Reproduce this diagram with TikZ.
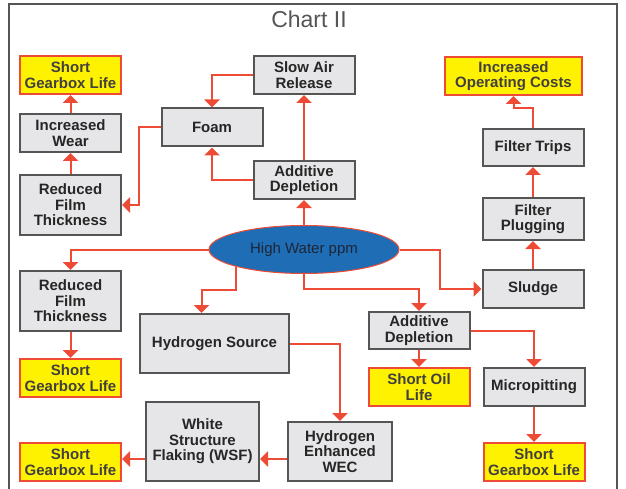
\documentclass[tikz,border=0pt]{standalone}
\usepackage{fontspec}
\setmainfont{Liberation Sans}
\usepackage{tikz}
\usetikzlibrary{
  arrows.meta,
  positioning,
  shapes.geometric,
  calc
}
\definecolor{boxgray}{HTML}{E6E6E8}
\definecolor{edgegray}{HTML}{555555}
\definecolor{warnyellow}{HTML}{FFF200}
\definecolor{flowred}{HTML}{EE4B36}
\definecolor{ovalblue}{HTML}{1F6EB5}
\definecolor{ovaltext}{HTML}{1E2538}
\definecolor{titlegray}{HTML}{555555}

\begin{document}
\begin{tikzpicture}[
    x=1pt, y=-1pt,
    >={Triangle[width=15pt,length=8pt]},
    % Styles
    grbox/.style={
        rectangle, draw=edgegray, line width=2pt,
        fill=boxgray, text=black!85,
        minimum width=101pt, minimum height=38pt,
        font=\fontsize{15}{15.5}\selectfont\bfseries,
        align=center, inner sep=2pt
    },
    ylbox/.style={
        grbox, draw=flowred, fill=warnyellow, text=black!75
    },
    oval/.style={
        ellipse, draw=flowred, line width=1pt,
        fill=ovalblue, text=ovaltext,
        minimum width=190pt, minimum height=48pt, inner sep=0pt,
        font=\fontsize{15}{17}\selectfont
    },
    flow/.style={->, line width=2pt, color=flowred}
]
\useasboundingbox (0,0) rectangle (626,489);

% ── FRAME & TITLE ──
\draw[edgegray, line width=1.5pt] (9,492) -- (9,4) -- (617,4) -- (617,492);
\node[font=\fontsize{23}{25}\selectfont, text=titlegray] (title) at (309,19.5) {Chart II};

% ── CENTRE ──
\node[oval] (hwp) at (304,249.5) {High Water ppm};

% ── TOP MIDDLE ──
\node[grbox, above=25pt of hwp] (addep1) {Additive\\Depletion};
\node[grbox, above=65pt of addep1] (slowair) {Slow Air\\Release};
\node[grbox, xshift=-92pt] (foam) at ($(slowair)!0.5!(addep1)$) {Foam};

% ── LEFT COLUMN ──
\node[grbox, minimum height=60pt] (rft1) at (70.5,205) {Reduced\\Film\\Thickness};
\node[grbox, above=21pt of rft1] (incwear) {Increased\\Wear};
\node[ylbox, above=18pt of incwear] (sgl1) {Short\\Gearbox Life};

\node[grbox, minimum height=60pt] (rft2) at (70.5,301) {Reduced\\Film\\Thickness};
\node[ylbox, below=26pt of rft2] (sgl2) {Short\\Gearbox Life};

\node[ylbox] (sgl4) at (70.5,462) {Short\\Gearbox Life};

% ── RIGHT COLUMN ──
\node[grbox] (sludge) at (533,289) {Sludge};
\node[grbox, above=28pt of sludge, minimum height=42pt] (fplug) {Filter\\Plugging};
\node[grbox, above=30pt of fplug, minimum height=37pt] (ftrips) {Filter Trips};
\node[ylbox, above=32pt of ftrips, xshift=-19.5pt, minimum width=137pt] (incost) {Increased\\Operating Costs};

% ── LOWER MIDDLE ──
\node[grbox, minimum height=37pt] (addep2) at (419,330.5) {Additive\\Depletion};
\node[ylbox, below=17pt of addep2] (soil) {Short Oil\\Life};
\node[grbox, right=12pt of soil] (micro) {Micropitting};
\node[ylbox, below=35pt of micro] (sgl3) {Short\\Gearbox Life};

\node[grbox, minimum width=149pt, minimum height=59pt] (hsrc) at (214.5,343.5) {Hydrogen Source};
\node[grbox, minimum width=104pt, minimum height=59pt] (hewec) at (340,451.5) {Hydrogen\\Enhanced\\WEC};
\node[grbox, minimum width=113pt, minimum height=79pt] (wsf) at (202.5,441.5) {White\\Structure\\Flaking (WSF)};
\coordinate (wsfline) at (0,459);

% ── CONNECTORS ──
\draw[flow] (rft1) -- (incwear);
\draw[flow] (incwear) -- (sgl1);
\draw[flow] (foam.west) -- ++(-22,0) |- (rft1.east);
\draw[flow] (slowair.west) -| (foam.north);
\draw[flow] (addep1.west) -| (foam.south);
\draw[flow] (addep1) -- (slowair);
\draw[flow] (hwp) -- (addep1);

\draw[flow] (hwp.west) -| (rft2.north);
\draw[flow] (rft2) -- (sgl2);
\draw[flow] (hwp.south west) -- ++(0,23) -| ([xshift=-13pt]hsrc.north);
\draw[flow] (hwp.south) -- ++(0,15) -| (addep2.north);
\draw[flow] (hwp.east) -- ++(40.5,0) |- (sludge.west);

\draw[flow] (sludge) -- (fplug);
\draw[flow] (fplug) -- (ftrips);
\draw[flow] (ftrips.north) -- ++(0,-20) -| (incost.south);

\draw[flow] (addep2) -- (soil);
\draw[flow] (addep2.east) -| (micro.north);
\draw[flow] (micro) -- (sgl3);

\draw[flow] (hsrc.east) -| (hewec.north);
\draw[flow] (hewec.west |- wsfline) -- (wsf.east |- wsfline);
\draw[flow] (wsf.west |- wsfline) -- (sgl4.east |- wsfline);

\end{tikzpicture}
\end{document}
